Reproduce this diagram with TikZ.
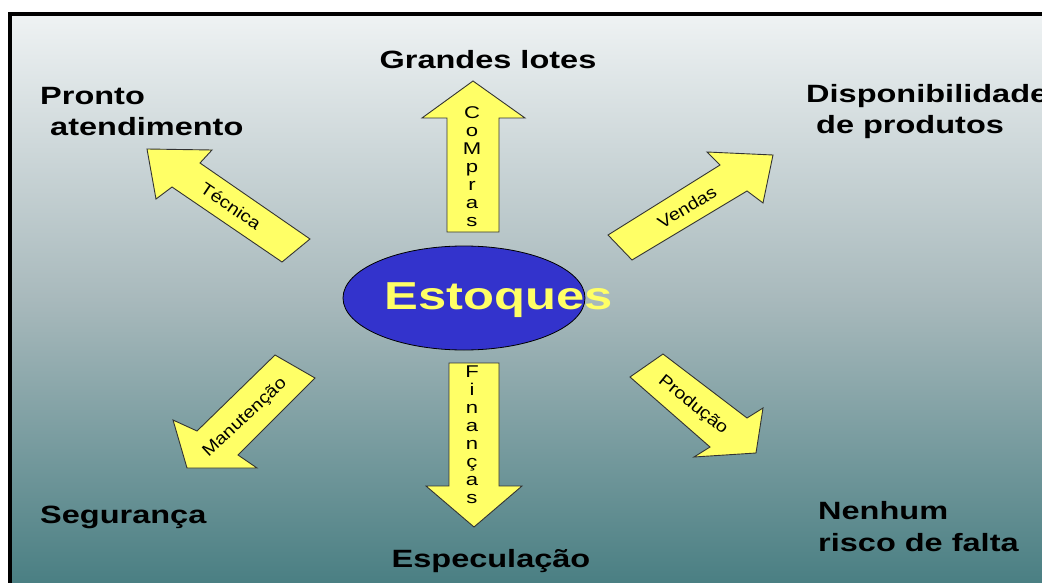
\documentclass[tikz,border=0pt]{standalone}
\usepackage{fontspec}
\setmainfont{Liberation Sans}
\newfontfamily\labfont[FakeStretch=1.3]{Liberation Sans}
\newfontfamily\smallfont[FakeStretch=1.15]{Liberation Sans}
\usetikzlibrary{shapes.geometric}
\definecolor{bgtop}{HTML}{EEF2F3}
\definecolor{bgmid}{HTML}{A8B9BC}
\definecolor{bgbot}{HTML}{4A7F83}
\definecolor{arrowfill}{HTML}{FFFF66}
\definecolor{ellfill}{HTML}{3333CC}
\definecolor{esttxt}{HTML}{FFFF66}
\tikzset{
  arrowbox/.style={fill=arrowfill, draw=black!80, line width=0.9pt, line join=miter},
  biglabel/.style={font=\labfont\bfseries\fontsize{25}{32}\selectfont, inner sep=0pt},
  smalltxt/.style={font=\smallfont\fontsize{17}{19}\selectfont, inner sep=0pt},
  stacktxt/.style={font=\labfont\fontsize{17}{18}\selectfont, inner sep=0pt, align=center},
}
\begin{document}
\begin{tikzpicture}[x=1pt,y=-1pt]
\useasboundingbox (0,0) rectangle (1042,583);
\begin{scope}
\clip (0,0) rectangle (1042,583);
\shade[top color=bgtop, bottom color=bgbot, middle color=bgmid] (12,16) rectangle (1042,583);
\draw[line width=4pt] (10,590) -- (10,14) -- (1050,14);
\end{scope}

% central ellipse
\node[ellipse, fill=ellfill, draw=black, line width=0.8pt, minimum width=242pt, minimum height=104pt, inner sep=0pt] (est) at (464,298) {};
\node[font=\labfont\bfseries\fontsize{39}{41}\selectfont, text=esttxt, inner sep=0pt] (esttext) at (499,300) {Estoques};

% arrows
\draw[arrowbox] (473,81) -- (525,118) -- (499,118) -- (499,232) -- (447,232) -- (447,118) -- (422,118) -- cycle;
\draw[arrowbox] (449,363) -- (499,363) -- (499,486) -- (522,486) -- (474,527) -- (426,486) -- (449,486) -- cycle;
\draw[arrowbox] (147,149) -- (212,150) -- (200,163) -- (310,239) -- (282,262) -- (172,187) -- (156,199) -- cycle;
\draw[arrowbox] (773,155) -- (707,152) -- (720,165) -- (608,235) -- (632,260) -- (747,191) -- (763,203) -- cycle;
\draw[arrowbox] (187,468) -- (173,420) -- (197,431) -- (275,355) -- (315,378) -- (238,455) -- (257,468) -- cycle;
\draw[arrowbox] (630,377) -- (663,354) -- (747,418) -- (763,408) -- (756,453) -- (694,457) -- (710,447) -- cycle;

% arrow texts
\node[stacktxt] (compras) at (472,167) {C\\o\\M\\p\\r\\a\\s};
\node[stacktxt] (financas) at (472,435) {F\\i\\n\\a\\n\\ç\\a\\s};
\node[smalltxt, rotate=-34] (tecnica) at (231,206) {Técnica};
\node[smalltxt, rotate=31] (vendas) at (687,207) {Vendas};
\node[smalltxt, rotate=43] (manut) at (245,418) {Manutenção};
\node[smalltxt, rotate=-39] (producao) at (693,405) {Produção};

% outer labels
\node[biglabel] (grandes) at (488,60) {Grandes lotes};
\node[biglabel, anchor=west] (pronto) at (40,96) {Pronto};
\node[biglabel, anchor=west] (atend) at (50,127) {atendimento};
\node[biglabel, anchor=west] (dispon) at (806,96) {Disponibilidade};
\node[biglabel, anchor=west] (deprod) at (816,127) {de produtos};
\node[biglabel, anchor=west] (seg) at (40,517) {Segurança};
\node[biglabel, anchor=west] (nenhum) at (818,511) {Nenhum};
\node[biglabel, anchor=west] (risco) at (818,543) {risco de falta};
\node[biglabel] (espec) at (491,561) {Especulação};
\end{tikzpicture}
\end{document}
